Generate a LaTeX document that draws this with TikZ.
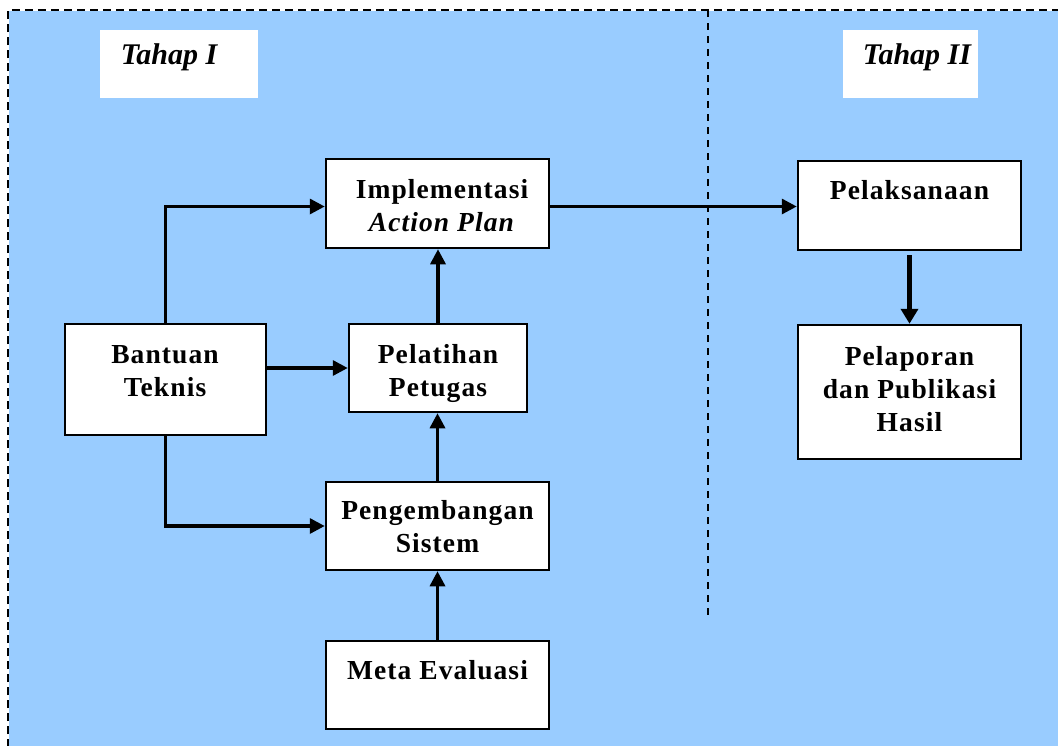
\documentclass[tikz,border=0pt]{standalone}
\usepackage{fontspec}
\setmainfont{Liberation Serif}
\newfontfamily\boxfont{Liberation Serif}[LetterSpace=4]
\usetikzlibrary{arrows.meta,calc}
\definecolor{panel}{HTML}{99CCFF}

\tikzset{
  frame/.style={line width=2pt, dash pattern=on 8pt off 5pt},
  divider/.style={line width=2pt, dash pattern=on 7pt off 6pt},
  box/.style={draw=black, line width=2.5pt, fill=white, inner sep=0pt},
  tagbox/.style={fill=white, inner sep=0pt},
  txt/.style={align=center, inner sep=0pt, font=\boxfont\bfseries\fontsize{27.5}{33}\selectfont},
  tagtxt/.style={inner sep=0pt, font=\bfseries\itshape\fontsize{30}{33}\selectfont},
  conn/.style={line width=3.3pt, -{Triangle[length=15pt,width=15pt]}},
  bigconn/.style={line width=5.3pt, -{Triangle[length=15pt,width=17pt]}}
}

\begin{document}
\begin{tikzpicture}[x=1pt,y=-1pt]
\useasboundingbox (0,0) rectangle (1058,745);

% background panel with its dashed outline
\fill[panel] (9,11) rectangle (1060,747);
\draw[frame] (8,747) -- (8,10) -- (1060,10);
\draw[divider] (708,10) -- (708,617);

% stage headings
\node[tagbox, minimum width=158pt, minimum height=68pt] (t1) at (179,64) {};
\node[tagtxt] (t1txt) at (169,57) {Tahap I};
\node[tagbox, minimum width=135pt, minimum height=68pt] (t2) at (910.5,64) {};
\node[tagtxt] (t2txt) at (917,57) {Tahap II};

% stage I boxes
\node[box, minimum width=223pt, minimum height=89pt] (im) at (437.5,203.5) {};
\node[txt] (imtxt) at (442,206) {Implementasi\\\textit{Action Plan}};

\node[box, minimum width=178pt, minimum height=88pt] (pl) at (438,368) {};
\node[txt] (pltxt) at (438,373) {Pelatihan\\Petugas};

\node[box, minimum width=201pt, minimum height=111pt] (bt) at (165.5,379.5) {};
\node[txt] (bttxt) at (165,371) {Bantuan\\Teknis};

\node[box, minimum width=223pt, minimum height=88pt] (pg) at (437.5,526) {};
\node[txt] (pgtxt) at (437.5,526.5) {Pengembangan\\Sistem};

\node[box, minimum width=223pt, minimum height=88pt] (me) at (437.5,685) {};
\node[txt] (metxt) at (437.5,670) {Meta Evaluasi};

% stage II boxes
\node[box, minimum width=223pt, minimum height=89pt] (pk) at (909.5,205.5) {};
\node[txt] (pktxt) at (909.5,190) {Pelaksanaan};

\node[box, minimum width=223pt, minimum height=134pt] (pp) at (909.5,392) {};
\node[txt] (pptxt) at (909.5,389) {Pelaporan\\dan Publikasi\\Hasil};

% connectors
\draw[conn] (bt.north) |- ($(im.west)+(0,3)$);
\draw[conn] (bt.east |- pl.west) -- (pl.west);
\draw[conn] (bt.south) |- (pg.west);
\draw[conn] (pl.north) -- (pl.north |- im.south);
\draw[conn] (pg.north) -- (pg.north |- pl.south);
\draw[conn] (me.north) -- (me.north |- pg.south);
\draw[conn] ($(im.east)+(0,3)$) -- ($(im.east -| pk.west)+(0,3)$);
\draw[bigconn] ($(pk.south)+(0,4)$) -- (pp.north);
\end{tikzpicture}
\end{document}
